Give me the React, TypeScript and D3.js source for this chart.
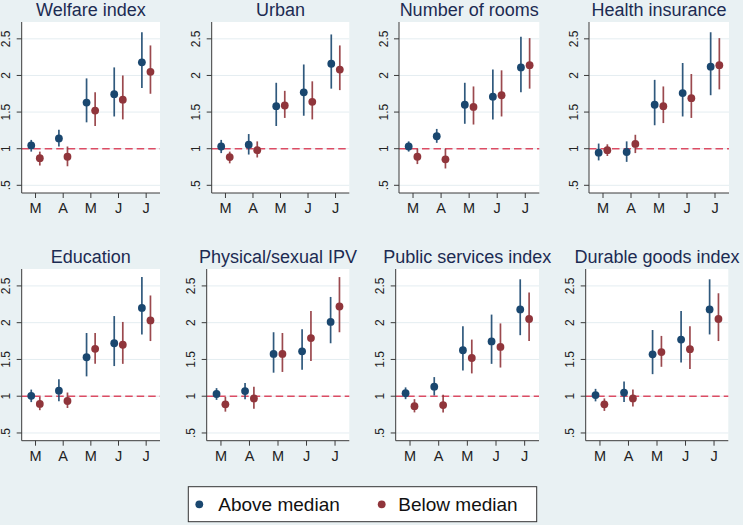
import React from "react";
import * as d3 from "d3";

// ---------- data ----------
const months = ["M", "A", "M", "J", "J"];
const yTicks = [0.5, 1, 1.5, 2, 2.5];
const yTickLabels = [".5", "1", "1.5", "2", "2.5"];
const seriesNames = ["Above median", "Below median"];

// [estimate, lower CI, upper CI]
const welfareAbove = [[1.045, 0.96, 1.12], [1.14, 1.03, 1.26], [1.63, 1.36, 1.96], [1.745, 1.44, 2.11], [2.18, 1.83, 2.59]];
const welfareBelow = [[0.87, 0.77, 0.96], [0.89, 0.76, 1.03], [1.52, 1.31, 1.77], [1.67, 1.40, 2.0], [2.05, 1.75, 2.41]];
const urbanAbove = [[1.03, 0.94, 1.12], [1.055, 0.92, 1.2], [1.58, 1.31, 1.9], [1.77, 1.45, 2.15], [2.16, 1.82, 2.56]];
const urbanBelow = [[0.885, 0.8, 0.96], [0.98, 0.88, 1.1], [1.59, 1.42, 1.79], [1.64, 1.40, 1.92], [2.08, 1.80, 2.41]];
const roomsAbove = [[1.03, 0.96, 1.1], [1.17, 1.08, 1.27], [1.6, 1.34, 1.9], [1.71, 1.40, 2.08], [2.11, 1.77, 2.53]];
const roomsBelow = [[0.89, 0.79, 1.0], [0.855, 0.73, 1.0], [1.57, 1.33, 1.85], [1.73, 1.44, 2.07], [2.14, 1.82, 2.51]];
const healthAbove = [[0.945, 0.84, 1.07], [0.955, 0.82, 1.1], [1.6, 1.32, 1.94], [1.76, 1.44, 2.17], [2.12, 1.73, 2.59]];
const healthBelow = [[0.98, 0.9, 1.06], [1.065, 0.94, 1.19], [1.58, 1.35, 1.85], [1.69, 1.42, 2.02], [2.14, 1.81, 2.51]];
const educationAbove = [[1.005, 0.92, 1.09], [1.075, 0.93, 1.23], [1.53, 1.27, 1.86], [1.72, 1.41, 2.09], [2.2, 1.84, 2.62]];
const educationBelow = [[0.895, 0.81, 0.99], [0.935, 0.84, 1.05], [1.645, 1.44, 1.86], [1.70, 1.44, 2.01], [2.03, 1.75, 2.37]];
const ipvAbove = [[1.03, 0.95, 1.11], [1.07, 0.96, 1.18], [1.575, 1.32, 1.87], [1.61, 1.36, 1.91], [2.01, 1.72, 2.35]];
const ipvBelow = [[0.89, 0.79, 0.99], [0.97, 0.83, 1.13], [1.575, 1.33, 1.86], [1.79, 1.48, 2.16], [2.22, 1.87, 2.62]];
const publicAbove = [[1.04, 0.96, 1.12], [1.13, 1.01, 1.26], [1.625, 1.35, 1.95], [1.745, 1.44, 2.11], [2.18, 1.83, 2.59]];
const publicBelow = [[0.865, 0.78, 0.96], [0.88, 0.78, 1.02], [1.52, 1.31, 1.77], [1.67, 1.39, 1.99], [2.05, 1.75, 2.41]];
const durableAbove = [[1.015, 0.93, 1.1], [1.05, 0.92, 1.2], [1.57, 1.30, 1.9], [1.77, 1.46, 2.16], [2.18, 1.84, 2.59]];
const durableBelow = [[0.89, 0.80, 0.97], [0.97, 0.86, 1.09], [1.6, 1.40, 1.82], [1.64, 1.37, 1.95], [2.05, 1.75, 2.40]];

const panelTitles = ["Welfare index", "Urban", "Number of rooms", "Health insurance", "Education", "Physical/sexual IPV", "Public services index", "Durable goods index"];
const panelAbove = [welfareAbove, urbanAbove, roomsAbove, healthAbove, educationAbove, ipvAbove, publicAbove, durableAbove];
const panelBelow = [welfareBelow, urbanBelow, roomsBelow, healthBelow, educationBelow, ipvBelow, publicBelow, durableBelow];
const referenceValue = 1;

// ---------- layout ----------
const W = 743;
const H = 525;
const BG = "#e9f1f3";
const BLUE = "#1a476f";
const RED = "#90353b";
const TITLE = "#1c2b52";
const AXIS = "#3a3a3a";
const FONT = "'Liberation Sans', Arial, Helvetica, sans-serif";

const rows = [
  { top: 22, bottom: 193 },
  { top: 269, bottom: 440.7 },
];
const plotX = [
  [21.7, 160], [211.7, 349.3], [399, 539.3], [589, 729],
  [21.7, 160], [206.7, 349.3], [395.7, 539], [585.7, 728.3],
];

function Panel({ idx }: { idx: number }) {
  const row = rows[Math.floor(idx / 4)];
  const [x0, x1] = plotX[idx];
  const y = d3.scaleLinear().domain([0.395, 2.73]).range([row.bottom, row.top]);
  const x = d3.scaleLinear().domain([-0.5, 4.5]).range([x0, x1]);
  const off = 0.155;
  const groups = [
    { data: panelAbove[idx], color: BLUE, dx: -off },
    { data: panelBelow[idx], color: RED, dx: off },
  ];
  return (
    <g>
      <rect x={x0} y={row.top} width={x1 - x0} height={row.bottom - row.top} fill="#ffffff" />
      {yTicks.map((t) => (
        <line key={"g" + t} x1={x0} x2={x1} y1={y(t)} y2={y(t)} stroke="#e4edf1" strokeWidth={1} />
      ))}
      <line
        x1={x0}
        x2={x1}
        y1={y(referenceValue)}
        y2={y(referenceValue)}
        stroke="#dc4c64"
        strokeWidth={1.6}
        strokeDasharray="7.5,4"
      />
      {groups.map((g, gi) =>
        g.data.map((d, i) => (
          <g key={gi + "-" + i}>
            <line
              x1={x(i + g.dx)}
              x2={x(i + g.dx)}
              y1={y(d[1])}
              y2={y(d[2])}
              stroke={g.color}
              strokeWidth={1.7}
              strokeOpacity={0.9}
            />
            <circle cx={x(i + g.dx)} cy={y(d[0])} r={3.9} fill={g.color} />
          </g>
        ))
      )}
      {/* axes */}
      <line x1={x0} x2={x0} y1={row.top} y2={row.bottom} stroke={AXIS} strokeWidth={1} />
      <line x1={x0} x2={x1} y1={row.bottom} y2={row.bottom} stroke={AXIS} strokeWidth={1} />
      {yTicks.map((t, i) => (
        <g key={"yt" + t}>
          <line x1={x0 - 5} x2={x0} y1={y(t)} y2={y(t)} stroke={AXIS} strokeWidth={1} />
          <text
            transform={`translate(${x0 - 11.5},${y(t)}) rotate(-90)`}
            textAnchor="middle"
            fontFamily={FONT}
            fontSize={12}
            fill="#222"
          >
            {yTickLabels[i]}
          </text>
        </g>
      ))}
      {months.map((m, i) => (
        <g key={"xt" + i}>
          <line x1={x(i)} x2={x(i)} y1={row.bottom} y2={row.bottom + 5} stroke={AXIS} strokeWidth={1} />
          <text x={x(i)} y={row.bottom + 20} textAnchor="middle" fontFamily={FONT} fontSize={14.5} fill="#222">
            {m}
          </text>
        </g>
      ))}
      <text
        x={(x0 + x1) / 2}
        y={row.top - 6.5}
        textAnchor="middle"
        fontFamily={FONT}
        fontSize={18}
        fill={TITLE}
      >
        {panelTitles[idx]}
      </text>
    </g>
  );
}

export default function App() {
  const legendItems = [
    { label: seriesNames[0], color: BLUE, cx: 199.3, tx: 218.3 },
    { label: seriesNames[1], color: RED, cx: 381.7, tx: 398.3 },
  ];
  return (
    <div>
      <style>{"body{margin:0;}"}</style>
      <svg width={W} height={H} style={{ display: "block" }}>
        <rect x={0} y={0} width={W} height={H} fill={BG} />
        {panelTitles.map((_, i) => (
          <Panel key={i} idx={i} />
        ))}
        <rect x={188.3} y={486.7} width={348.4} height={35} fill="#ffffff" stroke="#333" strokeWidth={1} />
        {legendItems.map((l) => (
          <g key={l.label}>
            <circle cx={l.cx} cy={504.3} r={3.9} fill={l.color} />
            <text x={l.tx} y={511} fontFamily={FONT} fontSize={19} fill="#111">
              {l.label}
            </text>
          </g>
        ))}
      </svg>
    </div>
  );
}
